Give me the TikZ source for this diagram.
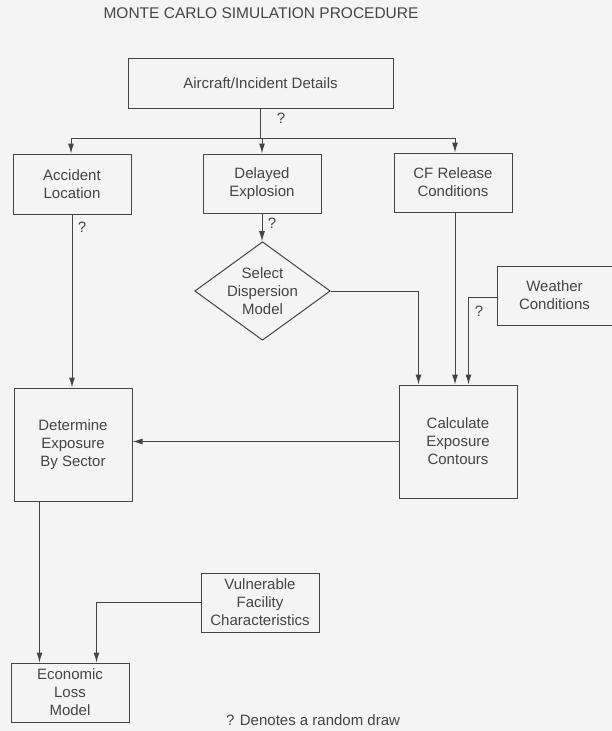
\documentclass[tikz,border=0pt]{standalone}
\usepackage{fontspec}
\setmainfont{Liberation Sans}
\usetikzlibrary{arrows.meta,shapes.geometric,calc}
\definecolor{ink}{HTML}{444444}
\definecolor{paper}{HTML}{F4F4F4}
\tikzset{
  box/.style={draw=ink, line width=1pt, text=ink, align=center, inner sep=0pt,
    font=\fontsize{15}{18}\selectfont},
  dia/.style={diamond, draw=ink, line width=1pt, text=ink, align=center, inner sep=0pt,
    font=\fontsize{15}{18}\selectfont},
  conn/.style={draw=ink, line width=1pt},
  arr/.style={conn, -{Latex[length=10pt,width=6pt]}},
  qm/.style={text=ink, font=\fontsize{15}{18}\selectfont, inner sep=0pt},
}
\begin{document}
\begin{tikzpicture}[x=1pt,y=-1pt]
\fill[paper] (0,0) rectangle (612,731);
\useasboundingbox (0,0) rectangle (612,731);

\node[qm] (title) at (261,13) {\fontsize{15.5}{18}\selectfont MONTE CARLO SIMULATION PROCEDURE};

\node[box, minimum width=265pt, minimum height=50pt] (air) at (260.5,83) {Aircraft/Incident Details};
\node[box, minimum width=118pt, minimum height=60pt] (acc) at (72,184) {Accident\\Location};
\node[box, minimum width=118pt, minimum height=59pt] (del) at (262,183.5) {Delayed\\Explosion};
\node[box, minimum width=118pt, minimum height=59pt] (cf) at (453,182.5) {CF Release\\Conditions};
\node[dia, minimum width=117pt, minimum height=85pt, aspect=1.376] (dm) at (262.5,291) {Select\\Dispersion\\Model};
\node[box, minimum width=115pt, minimum height=59pt] (wea) at (554.5,295.5) {Weather\\Conditions};
\node[box, minimum width=118pt, minimum height=113pt] (det) at (73,444.5) {Determine\\Exposure\\By Sector};
\node[box, minimum width=118pt, minimum height=113pt] (calc) at (458,441.5) {Calculate\\Exposure\\Contours};
\node[box, minimum width=118pt, minimum height=59pt] (vul) at (260,602.5) {Vulnerable\\Facility\\Characteristics};
\node[box, minimum width=118pt, minimum height=59pt] (eco) at (70,692.5) {Economic\\Loss\\Model};

\node[qm] (note) at (313,720) {? Denotes a random draw};

% connectors
\coordinate (j) at (air.south |- 0,138);
\draw[conn] (air.south) -- (j);
\draw[arr] (j) -| ([xshift=-1pt]acc.north);
\draw[arr] (j) -| (del.north);
\draw[arr] (j) -| ([xshift=2pt]cf.north);
\node[qm] (q1) at (281,118) {?};

\draw[arr] (acc.south) -- (acc.south |- det.north);
\node[qm] (q2) at (82,227) {?};

\draw[arr] (del.south) -- (del.south |- dm.north);
\node[qm] (q3) at (272,223) {?};

\draw[arr] (dm.east) -| ([xshift=20pt]calc.north west);
\draw[arr] ([xshift=2pt]cf.south) -- ([xshift=2pt]cf.south |- calc.north);
\draw[arr] ([yshift=-1.5pt]wea.west) -| ([xshift=70pt]calc.north west);
\node[qm] (q4) at (479,311) {?};

\draw[arr] (calc.west) -- (calc.west -| det.east);

\draw[arr] ([xshift=26pt]det.south west) -- ([xshift=26pt]det.south west |- eco.north);
\draw[arr] (vul.west) -| ([xshift=86pt]eco.north west);
\end{tikzpicture}
\end{document}
